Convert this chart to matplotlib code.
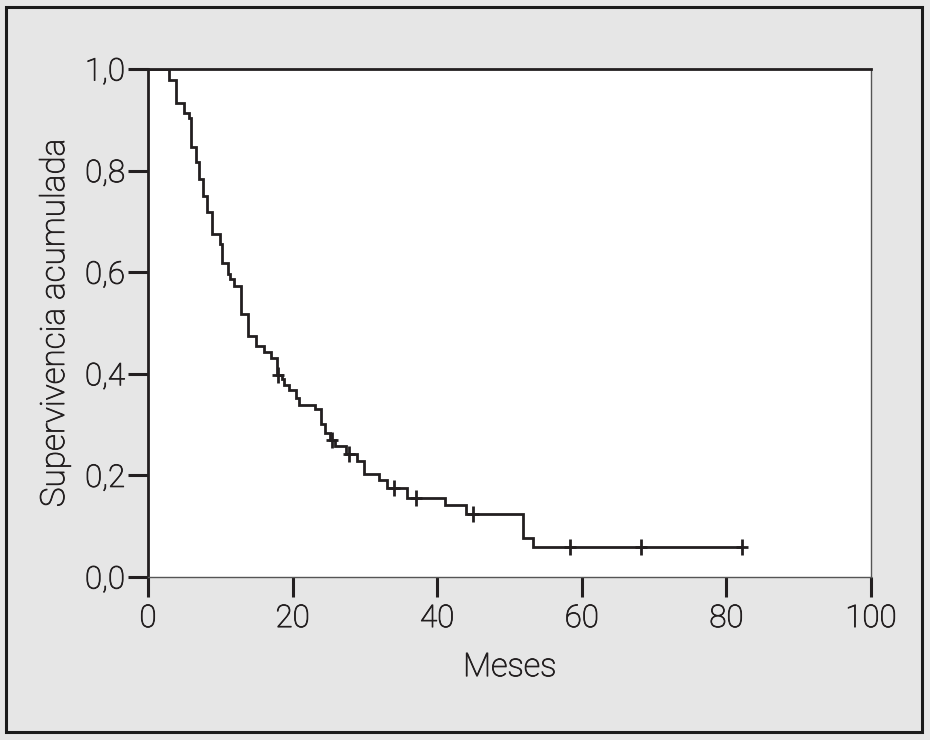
import matplotlib
matplotlib.use("Agg")
import matplotlib.pyplot as plt
import matplotlib.patheffects as pe
import numpy as np
from matplotlib.patches import Rectangle

# Data
event_times = [2.9, 3.9, 5.0, 5.7, 6.0, 6.7, 7.0, 7.6, 8.1, 8.9, 9.9, 10.3, 11.0, 11.4, 11.9,
               12.8, 13.9, 15.0, 16.0, 17.0, 17.8, 18.6, 18.8, 19.5, 20.5, 20.9, 23.1, 23.9,
               24.5, 25.2, 25.9, 27.4, 28.9, 29.9, 31.9, 33.0, 35.8, 41.1, 44.0, 51.9, 53.2]
survival = [0.978, 0.934, 0.913, 0.904, 0.847, 0.816, 0.783, 0.750, 0.718, 0.675, 0.656,
            0.618, 0.596, 0.586, 0.573, 0.518, 0.475, 0.455, 0.443, 0.432, 0.398, 0.389,
            0.378, 0.368, 0.352, 0.339, 0.330, 0.302, 0.283, 0.270, 0.258, 0.242, 0.229,
            0.202, 0.191, 0.176, 0.155, 0.142, 0.124, 0.076, 0.060]
censor_times = [18.0, 25.4, 27.8, 34.0, 37.0, 45.0, 58.3, 68.2, 82.1]
x_ticks = [0, 20, 40, 60, 80, 100]
y_ticks = [0.0, 0.2, 0.4, 0.6, 0.8, 1.0]
y_ticklabels = ["0,0", "0,2", "0,4", "0,6", "0,8", "1,0"]
x_label = "Meses"
y_label = "Supervivencia acumulada"

FONT = ["Roboto", "Liberation Sans", "DejaVu Sans"]
plt.rcParams['font.family'] = FONT
plt.rcParams['font.weight'] = 'light'
TXT = "#231f20"
BG = "#e6e6e6"
thick = [pe.withStroke(linewidth=0.6, foreground=TXT)]

fig = plt.figure(figsize=(9.3, 7.4), dpi=100)
fig.patch.set_facecolor(BG)
fig.patches.append(Rectangle((6/930, 1 - 732/740), (922-6)/930, (732-7)/740,
                             transform=fig.transFigure, fill=False,
                             edgecolor="#1a1a1a", linewidth=2.2, zorder=0))

ax = fig.add_axes([148/930, 1 - 577/740, (871-148)/930, (577-69)/740])
ax.set_facecolor("white")

t = np.concatenate([[0.0], event_times, [max(censor_times)]])
s = np.concatenate([[1.0], survival, [survival[-1]]])
ax.step(t, s, where="post", color=TXT, linewidth=2.0, solid_joinstyle="miter", zorder=3)

# censor marks at the curve level
idx = np.searchsorted(t, censor_times, side="right") - 1
cs = s[idx]
ax.plot(censor_times, cs, linestyle="none", marker="|", markersize=12,
        markeredgewidth=2.0, color=TXT, zorder=4)
ax.plot(censor_times, cs, linestyle="none", marker="_", markersize=9,
        markeredgewidth=2.0, color=TXT, zorder=4)

ax.set_xlim(0, 100)
ax.set_ylim(0, 1.0)
ax.set_xticks(x_ticks)
ax.set_xticklabels([str(v) for v in x_ticks])
ax.set_yticks(y_ticks)
ax.set_yticklabels(y_ticklabels)

ax.tick_params(axis="both", direction="out", length=14.5, width=2.2, color=TXT,
               labelsize=22.5, labelcolor=TXT)
ax.tick_params(axis="x", pad=5)
ax.tick_params(axis="y", pad=2)
for lab in ax.get_xticklabels() + ax.get_yticklabels():
    lab.set_path_effects(thick)

ax.spines["left"].set_linewidth(2.0)
ax.spines["left"].set_color(TXT)
ax.spines["top"].set_linewidth(2.0)
ax.spines["top"].set_color(TXT)
ax.spines["bottom"].set_linewidth(1.0)
ax.spines["bottom"].set_color("#555555")
ax.spines["right"].set_linewidth(1.0)
ax.spines["right"].set_color("#555555")

ax.set_xlabel(x_label, fontsize=23.5, color=TXT, labelpad=13, fontweight='light',
              path_effects=thick)
ax.set_ylabel(y_label, fontsize=24, color=TXT, labelpad=10, fontweight='light',
              path_effects=thick)

fig.savefig("out.png", dpi=100, facecolor=fig.get_facecolor())
